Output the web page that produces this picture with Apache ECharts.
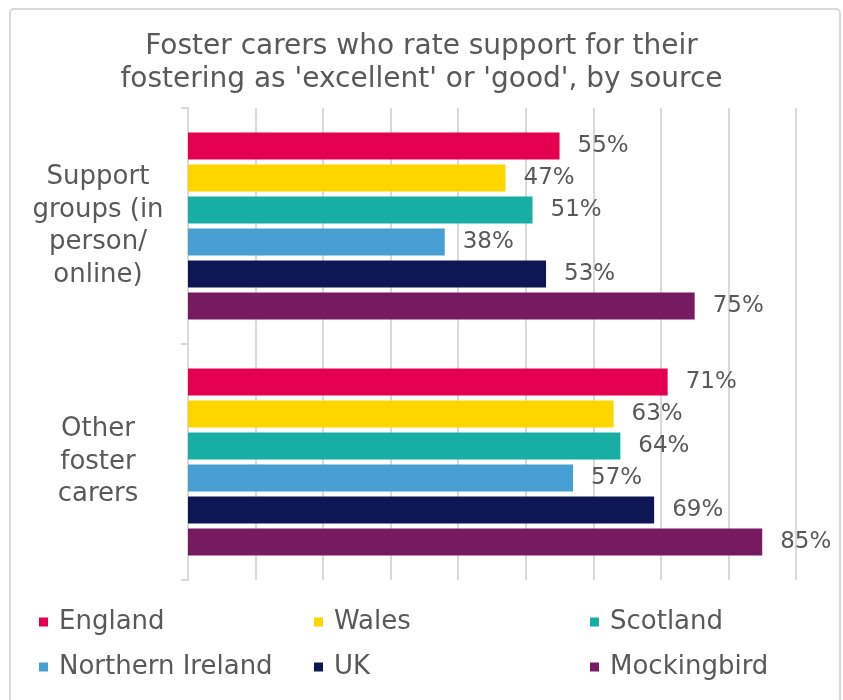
<!DOCTYPE html>
<html>
<head>
<meta charset="utf-8">
<script src="https://cdn.jsdelivr.net/npm/echarts@6/dist/echarts.min.js"></script>
<style>
  html, body { margin: 0; padding: 0; background: #ffffff; }
  #chart { width: 843px; height: 700px; }
</style>
</head>
<body>
<div id="chart"></div>
<script>
// Sources of support, top to bottom
const categories = ['Support\ngroups (in\nperson/\nonline)', 'Other\nfoster\ncarers'];

// Share of foster carers rating the source 'excellent' or 'good' (%)
const england = [55, 71];
const wales = [47, 63];
const scotland = [51, 64];
const northernIreland = [38, 57];
const uk = [53, 69];
const mockingbird = [75, 85];

const seriesNames = ['England', 'Wales', 'Scotland', 'Northern Ireland', 'UK', 'Mockingbird'];
const seriesValues = [england, wales, scotland, northernIreland, uk, mockingbird];
const seriesColors = ['#E4004F', '#FFD500', '#17AFA5', '#479ED2', '#0F1654', '#761B62'];

const textColor = '#595959';
const font = 'DejaVu Sans';

const chart = echarts.init(document.getElementById('chart'));

// one legend entry per slot, laid out as a 3 x 2 table
const legendLeft = [39, 314, 590];
const legendTop = [609, 654];
const legends = seriesNames.map((name, i) => ({
  data: [name],
  left: legendLeft[i % 3],
  top: legendTop[Math.floor(i / 3)],
  padding: 0,
  itemWidth: 9,
  itemHeight: 9,
  icon: 'rect',
  selectedMode: false,
  textStyle: { color: textColor, fontSize: 26, fontFamily: font, padding: [0, 0, 0, 6] }
}));

chart.setOption({
  backgroundColor: '#ffffff',
  animation: false,
  title: {
    text: "Foster carers who rate support for their\nfostering as 'excellent' or 'good', by source",
    left: 'center',
    top: 30,
    padding: 0,
    textStyle: {
      color: textColor,
      fontSize: 28,
      fontWeight: 'normal',
      fontFamily: font,
      lineHeight: 33
    }
  },
  graphic: [{
    type: 'rect',
    shape: { x: 10, y: 9, width: 830, height: 700, r: 4 },
    style: { fill: 'none', stroke: '#d9d9d9', lineWidth: 2 },
    silent: true
  }],
  legend: legends,
  grid: { left: 188, right: 47, top: 108, bottom: 120, containLabel: false },
  xAxis: {
    type: 'value',
    min: 0,
    max: 90,
    interval: 10,
    axisLabel: { show: false },
    axisLine: { show: false },
    axisTick: { show: false },
    splitLine: { show: true, lineStyle: { color: '#d9d9d9', width: 2 } }
  },
  yAxis: {
    type: 'category',
    data: categories,
    inverse: true,
    axisLine: { show: true, lineStyle: { color: '#d9d9d9', width: 2 } },
    axisTick: { show: true, length: 7, lineStyle: { color: '#d9d9d9', width: 2 } },
    axisLabel: {
      color: textColor,
      fontSize: 26,
      fontFamily: font,
      lineHeight: 32.5,
      align: 'center',
      margin: 90
    }
  },
  series: seriesNames.map((name, i) => ({
    name: name,
    type: 'bar',
    data: seriesValues[i],
    barWidth: 27,
    barGap: '18.5%',
    itemStyle: { color: seriesColors[i] },
    label: {
      show: true,
      position: 'right',
      distance: 18,
      formatter: '{c}%',
      color: textColor,
      fontSize: 23,
      fontFamily: font
    }
  }))
});
</script>
</body>
</html>
